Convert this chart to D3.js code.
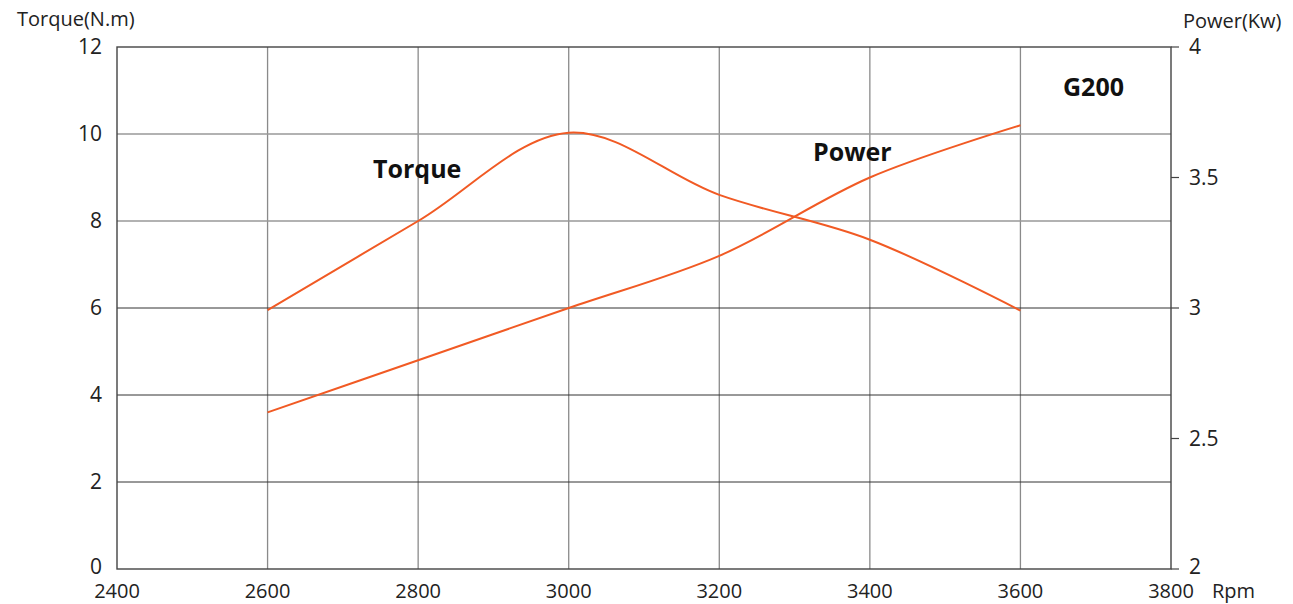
<!DOCTYPE html>
<html><head><meta charset="utf-8">
<script src="https://cdn.jsdelivr.net/npm/d3@7"></script>
<style>body{margin:0;background:#fff}svg{display:block}text{font-family:"Open Sans","Noto Sans",sans-serif}</style>
</head><body><svg id="c" width="1293" height="604"></svg>
<script>
const rpm = [2600, 2800, 3000, 3200, 3400, 3600];
const torque = [5.95, 8.0, 10.03, 8.6, 7.57, 5.94];
const power = [2.6, 2.8, 3.0, 3.2, 3.5, 3.7];
const xTicks = [2400, 2600, 2800, 3000, 3200, 3400, 3600, 3800];
const yLeftTicks = [0, 2, 4, 6, 8, 10, 12];
const yRightTicks = [2, 2.5, 3, 3.5, 4];
const darkGridValues = [2, 4, 6];

const svg = d3.select("#c");
const L = 117, R = 1171, T = 47, B = 569;
const x = d3.scaleLinear().domain([2400, 3800]).range([L, R]);
const yL = d3.scaleLinear().domain([0, 12]).range([B, T]);
const yR = d3.scaleLinear().domain([2, 4]).range([B, T]);

// vertical grid
svg.append("g").selectAll("line").data(xTicks.slice(1, -1)).join("line")
  .attr("x1", d => x(d)).attr("x2", d => x(d)).attr("y1", T).attr("y2", B)
  .attr("stroke", "#8a8a8a").attr("stroke-width", 1.3);
// horizontal grid
svg.append("g").selectAll("line").data(yLeftTicks.slice(1, -1)).join("line")
  .attr("x1", L).attr("x2", R).attr("y1", d => yL(d)).attr("y2", d => yL(d))
  .attr("stroke", d => darkGridValues.includes(d) ? "#333" : "#999").attr("stroke-width", d => darkGridValues.includes(d) ? 1 : 1.5);

// frame
svg.append("rect").attr("x", L).attr("y", T).attr("width", R - L).attr("height", B - T)
  .attr("fill", "none").attr("stroke", "#444").attr("stroke-width", 1.4);

// left axis labels
svg.append("g").selectAll("text").data(yLeftTicks).join("text")
  .attr("x", 102).attr("y", d => yL(d) + (d === 0 ? 5 : 7)).attr("text-anchor", "end")
  .attr("font-size", 21).attr("fill", "#222").text(d => d);
// right ticks and labels
svg.append("g").selectAll("line").data(yRightTicks).join("line")
  .attr("x1", R).attr("x2", R + 8).attr("y1", d => yR(d)).attr("y2", d => yR(d))
  .attr("stroke", "#444").attr("stroke-width", 1.2);
svg.append("g").selectAll("text").data(yRightTicks).join("text")
  .attr("x", 1189).attr("y", d => yR(d) + (d === 2 ? 5 : 7)).attr("text-anchor", "start")
  .attr("font-size", 21).attr("fill", "#222").text(d => d);
// bottom labels
svg.append("g").selectAll("text").data(xTicks).join("text")
  .attr("x", d => x(d)).attr("y", 598).attr("text-anchor", "middle")
  .attr("font-size", 20).attr("fill", "#222").text(d => d);

svg.append("text").attr("x", 1212).attr("y", 598).attr("font-size", 20).attr("fill", "#222").text("Rpm");
svg.append("text").attr("x", 17).attr("y", 26).attr("font-size", 20).attr("fill", "#222").text("Torque(N.m)");
svg.append("text").attr("x", 1183).attr("y", 28).attr("font-size", 20).attr("fill", "#222").text("Power(Kw)");

// curves
const curve = d3.curveCatmullRom.alpha(0.5);
const lt = d3.line().x(d => x(d[0])).y(d => yL(d[1])).curve(curve);
const lp = d3.line().x(d => x(d[0])).y(d => yR(d[1])).curve(curve);
svg.append("path").attr("d", lt(d3.zip(rpm, torque))).attr("fill", "none").attr("stroke", "#f15a24").attr("stroke-width", 2);
svg.append("path").attr("d", lp(d3.zip(rpm, power))).attr("fill", "none").attr("stroke", "#f15a24").attr("stroke-width", 2);

// annotations
svg.append("text").attr("x", 373).attr("y", 178).attr("font-size", 25).attr("font-weight", "bold").attr("fill", "#111").text("Torque");
svg.append("text").attr("x", 813).attr("y", 161).attr("font-size", 25).attr("font-weight", "bold").attr("fill", "#111").text("Power");
svg.append("text").attr("x", 1063).attr("y", 96).attr("font-size", 25).attr("font-weight", "bold").attr("fill", "#111").text("G200");
</script></body></html>
